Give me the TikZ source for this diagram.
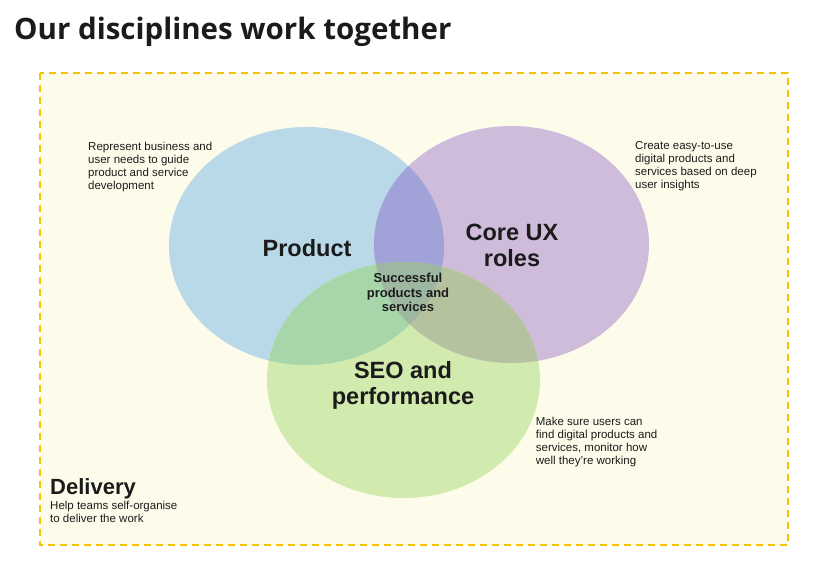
\documentclass[tikz,border=0pt]{standalone}
\usepackage{fontspec}
\setmainfont{Liberation Sans}
\newfontfamily\titlefont{Open Sans}
\definecolor{cream}{HTML}{FDFCEB}
\definecolor{dashyellow}{HTML}{F5C400}
\definecolor{cblue}{HTML}{B9D9E8}
\definecolor{cpurple}{HTML}{CFBBDA}
\definecolor{cgreen}{HTML}{D1EAAD}
\definecolor{cbp}{HTML}{A1A3D8}
\definecolor{cbg}{HTML}{A8D6AB}
\definecolor{cpg}{HTML}{B5C29F}
\definecolor{cmid}{HTML}{9EB7A0}
\definecolor{ink}{HTML}{1B1B1B}
\begin{document}
\begin{tikzpicture}[x=1pt,y=-1pt,
  biglabel/.style={inner sep=0pt, text=ink, align=center, font=\bfseries\fontsize{23.5}{26}\selectfont},
  midlabel/.style={inner sep=0pt, text=ink, align=center, font=\bfseries\fontsize{13}{14.5}\selectfont},
  desc/.style={inner sep=0pt, text=ink, align=left, anchor=north west, font=\fontsize{11.5}{13}\selectfont},
  frame/.style={fill=cream, draw=dashyellow, line width=2pt, dash pattern=on 7pt off 5pt}]
\useasboundingbox (0,0) rectangle (829,580);
\fill[white] (0,0) rectangle (829,580);
\node[anchor=base west, inner sep=0pt, text=ink, font=\titlefont\bfseries\fontsize{29.5}{34}\selectfont] (title) at (14,40) {Our disciplines work together};
\draw[frame] (40,73) rectangle (788,545);
\def\blueE{(306.5,246) ellipse [x radius=137.5pt, y radius=119pt]}
\def\purpleE{(511.5,244.5) ellipse [x radius=137.5pt, y radius=118.5pt]}
\def\greenE{(403.5,380) ellipse [x radius=136.5pt, y radius=118pt]}
\fill[cblue] \blueE;
\fill[cpurple] \purpleE;
\fill[cgreen] \greenE;
\begin{scope}\clip \blueE; \fill[cbp] \purpleE; \end{scope}
\begin{scope}\clip \blueE; \fill[cbg] \greenE; \end{scope}
\begin{scope}\clip \purpleE; \fill[cpg] \greenE; \end{scope}
\begin{scope}\clip \blueE; \clip \purpleE; \fill[cmid] \greenE; \end{scope}
\node[biglabel, anchor=base] (product) at (307,256) {Product};
\node[biglabel, anchor=north] (coreux) at (512,224) {Core UX\\roles};
\node[biglabel, anchor=north] (seo) at (403,361) {SEO and\\performance};
\node[midlabel, anchor=north] (success) at (408,273) {Successful\\products and\\services};
\node[desc] (productdesc) at (88,142.3) {Represent business and\\user needs to guide\\product and service\\development};
\node[desc] (uxdesc) at (635,141.3) {Create easy-to-use\\digital products and\\services based on deep\\user insights};
\node[desc] (seodesc) at (535.7,416.6) {Make sure users can\\find digital products and\\services, monitor how\\well they're working};
\node[anchor=base west, inner sep=0pt, text=ink, font=\bfseries\fontsize{22}{24}\selectfont] (delivery) at (50,494) {Delivery};
\node[desc] (deliverydesc) at (50,500.6) {Help teams self-organise\\to deliver the work};
\end{tikzpicture}
\end{document}
